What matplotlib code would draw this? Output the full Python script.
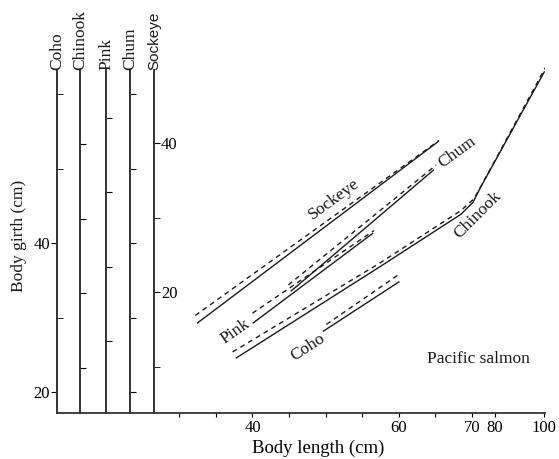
import numpy as np
import matplotlib.pyplot as plt

plt.rcParams['font.family'] = ['Liberation Serif', 'DejaVu Serif']

# データ（体長 cm / 体周 cm, 図の左端の Coho 目盛で読んだ値）
sockeye_len = [32.5, 65.3]
sockeye_solid = [29.3, 53.6]
sockeye_dash_len = [32.2, 65.5]
sockeye_dash = [30.3, 53.8]

chum_len = [45.3, 64.7]
chum_solid = [33.6, 49.8]
chum_dash_len = [44.9, 65.1]
chum_dash = [34.4, 50.5]

pink_len = [40.1, 56.4]
pink_solid = [29.3, 41.3]
pink_dash_len = [40.0, 56.6]
pink_dash = [30.6, 41.7]

coho_len = [49.7, 60.0]
coho_solid = [28.2, 34.8]
coho_dash_len = [50.1, 60.0]
coho_dash = [29.1, 35.8]

chinook_len = [37.8, 57.5, 68.5, 70.4, 73.5, 100.0]
chinook_solid = [24.6, 36.9, 43.9, 45.5, 47.4, 63.0]
chinook_dash_len = [37.3, 57.5, 68.5, 70.9, 74.3, 100.5]
chinook_dash = [25.4, 37.4, 44.4, 46.0, 47.9, 63.6]

species = ['Coho', 'Chinook', 'Pink', 'Chum', 'Sockeye']
axis_shift = [0.0, -13.3, -6.8, 0.0, -13.4]

x_ticks = [30, 35, 40, 45, 50, 55, 60, 65, 70, 80, 100]
x_labels = ['', '', '40', '', '', '', '60', '', '70', '80', '100']

# 横軸の目盛（70 cm 以上は詰めて描く）
kx = [-100, 70, 80, 100, 300]
ky = [-100, 70, 73.15, 79.86, 147.0]


def fwd(x):
    return np.interp(x, kx, ky)


def inv(y):
    return np.interp(y, ky, kx)


W, H = 559, 459
fig = plt.figure(figsize=(W / 100, H / 100), dpi=100)
ax = fig.add_axes([57 / W, 46 / H, 488 / W, 350 / H])
ax.set_xscale('function', functions=(fwd, inv))
ax.set_xlim(13.3, 100.3)
ax.set_ylim(17.2, 64.2)
for s in ['left', 'top', 'right']:
    ax.spines[s].set_visible(False)
ax.spines['bottom'].set_linewidth(1.3)
ax.spines['bottom'].set_color('#333333')
ax.set_yticks([])
ax.set_xticks(x_ticks)
ax.set_xticklabels(x_labels, fontsize=12)
ax.xaxis.set_minor_locator(plt.NullLocator())
ax.tick_params(axis='x', direction='out', length=3, width=0.8, pad=2)
ax.set_xlabel('Body length (cm)', fontsize=13.5)
ax.xaxis.set_label_coords((318 - 57) / 488, -0.075)

col = '#1a1a1a'
lines = [
    (sockeye_len, sockeye_solid, sockeye_dash_len, sockeye_dash),
    (chum_len, chum_solid, chum_dash_len, chum_dash),
    (pink_len, pink_solid, pink_dash_len, pink_dash),
    (coho_len, coho_solid, coho_dash_len, coho_dash),
    (chinook_len, chinook_solid, chinook_dash_len, chinook_dash),
]
for xs, ys, xd, yd in lines:
    ax.plot(xs, ys, color=col, lw=1.0)
    ax.plot(xd, yd, color=col, lw=1.0, dashes=(3.5, 3))

lab = dict(fontsize=12.5, color=col, ha='center', va='center')
ax.text(51.1, 45.9, 'Sockeye', rotation=36, **lab)
ax.text(67.9, 52.2, 'Chum', rotation=36, **lab)
ax.text(72.2, 43.8, 'Chinook', rotation=45, **lab)
ax.text(37.7, 28.2, 'Pink', rotation=35, **lab)
ax.text(47.5, 26.0, 'Coho', rotation=33, **lab)
ax.text(72.6, 24.4, 'Pacific salmon', rotation=0, **lab)

# 魚種ごとの縦軸
xpos = [57, 80, 106, 130, 154]
span = 343 / 7.45
for name, shift, xp in zip(species, axis_shift, xpos):
    a = fig.add_axes([xp / W, 46 / H, 0.0001, 343 / H])
    a.patch.set_alpha(0)
    lo = 17.2 + shift
    a.set_ylim(lo, lo + span)
    a.set_xticks([])
    for s in ['top', 'right', 'bottom']:
        a.spines[s].set_visible(False)
    a.spines['left'].set_linewidth(1.4)
    a.spines['left'].set_color('#333333')
    ticks = [t for t in range(0, 80, 10) if lo < t < lo + span]
    if name == 'Coho':
        a.set_yticks([20, 40])
        a.set_yticks([t for t in ticks if t not in (20, 40)], minor=True)
        a.tick_params(which='major', direction='out', length=4, left=True,
                      right=False, labelleft=True, labelsize=12, pad=1)
        a.tick_params(which='minor', direction='out', length=4, left=False,
                      right=True)
    elif name == 'Sockeye':
        a.set_yticks([20, 40])
        a.set_yticks([t for t in ticks if t not in (20, 40)], minor=True)
        a.tick_params(which='both', direction='out', length=4, left=False,
                      right=True, labelleft=False, labelright=True,
                      labelsize=12, pad=1)
    else:
        a.set_yticks(ticks)
        a.tick_params(direction='out', length=4, left=False, right=True,
                      labelleft=False)
    if name == 'Sockeye':
        a.text(0.5, 1.0, name, transform=a.transAxes, rotation=90,
               ha='center', va='bottom', fontsize=11, color=col,
               family=['Liberation Sans', 'DejaVu Sans'])
    else:
        a.text(0.5, 1.0, name, transform=a.transAxes, rotation=90,
               ha='center', va='bottom', fontsize=12.5, color=col)

fig.text(19 / W, 1 - 236 / H, 'Body girth (cm)', rotation=90, ha='center',
         va='center', fontsize=12.5, color=col)

fig.savefig('out.png', dpi=100)
